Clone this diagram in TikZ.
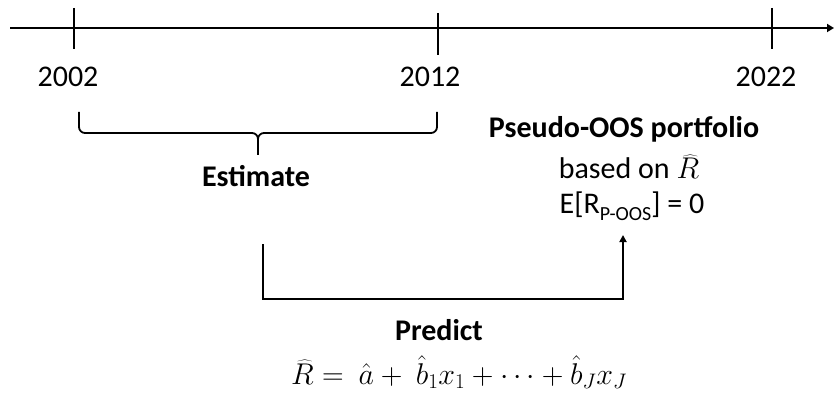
\documentclass[tikz,border=0pt]{standalone}
\usepackage{fix-cm}
\usepackage{fontspec}
\setmainfont{Carlito}
\usetikzlibrary{arrows.meta}
\tikzset{
  ln/.style={line width=1.8pt, black},
  lbl/.style={font=\fontsize{30}{35}\selectfont, inner sep=0pt, anchor=center},
  blbl/.style={font=\fontsize{30}{35}\selectfont\bfseries, inner sep=0pt, anchor=center},
}
\begin{document}
\begin{tikzpicture}[x=1pt,y=-1pt]
\useasboundingbox (0,0) rectangle (834,395);
% axis
\coordinate (axl) at (10,28);
\coordinate (axr) at (834,28);
\draw[ln, -{Triangle[length=7pt,width=8pt]}] (axl) -- (axr);
% ticks
\coordinate (t1a) at (74,8); \coordinate (t1b) at (74,49);
\coordinate (t2a) at (438,13); \coordinate (t2b) at (438,55);
\coordinate (t3a) at (772,8); \coordinate (t3b) at (772,49);
\draw[ln] (t1a) -- (t1b);
\draw[ln] (t2a) -- (t2b);
\draw[ln] (t3a) -- (t3b);
% year labels
\node[lbl] (y1) at (68,77) {2002};
\node[lbl] (y2) at (430,77) {2012};
\node[lbl] (y3) at (766,77) {2022};
% brace
\coordinate (b1) at (79,112);
\coordinate (b2) at (437,112);
\coordinate (btip) at (258,155);
\draw[ln, line join=round] (b1) -- (79,127) to[out=-90,in=180] (85,133) -- (252,133) to[out=0,in=90] (258,139) -- (btip);
\draw[ln, line join=round] (b2) -- (437,127) to[out=-90,in=0] (431,133) -- (264,133) to[out=180,in=90] (258,139);
\node[blbl] (est) at (256,176) {Estimate};
% Pseudo-OOS
\node[blbl] (pos) at (624,129) {Pseudo-OOS portfolio};
\node[lbl] (bas) at (629,167) {based on $\widehat{R}$};
\node[lbl] (eq) at (632,206) {E[R\raisebox{-0.22em}{\fontsize{20}{22}\selectfont P-OOS}] = 0};
% predict connector
\coordinate (ps) at (263,244);
\coordinate (pe) at (623,235);
\draw[ln, -{Triangle[length=7pt,width=7pt]}, line join=miter] (ps) |- (623,299) -- (pe);
\node[blbl] (pred) at (439,330) {Predict};
\node[lbl] (form) at (459,372) {$\widehat{R} =\ \hat{a} +\ \hat{b}_1 x_1 + \cdots + \hat{b}_J x_J$};
\end{tikzpicture}
\end{document}
